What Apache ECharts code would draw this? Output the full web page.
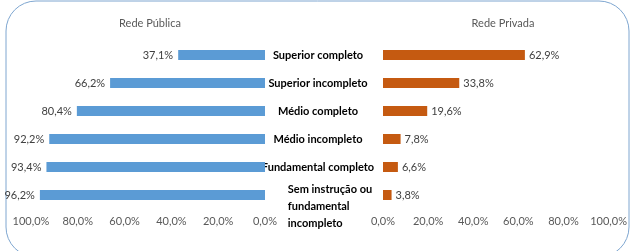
<!DOCTYPE html>
<html>
<head>
<meta charset="utf-8">
<script src="https://cdn.jsdelivr.net/npm/echarts@6/dist/echarts.min.js"></script>
<style>
  html, body { margin: 0; padding: 0; background: #fff; }
  #chart { width: 630px; height: 251px; }
</style>
</head>
<body>
<div id="chart"></div>
<script>
const categories = ['Superior completo', 'Superior incompleto', 'Médio completo', 'Médio incompleto', 'Fundamental completo', 'Sem instrução ou fundamental incompleto'];
const redePublica = [37.1, 66.2, 80.4, 92.2, 93.4, 96.2];
const redePrivada = [62.9, 33.8, 19.6, 7.8, 6.6, 3.8];
const titles = ['Rede Pública', 'Rede Privada'];
const xMin = 0, xMax = 100, xStep = 20;

const FONT = 'Lato, "Noto Sans", sans-serif';
const pct = v => v.toFixed(1).replace('.', ',') + '%';

const chart = echarts.init(document.getElementById('chart'));

const valueAxis = (grid, inverse) => ({
    type: 'value',
    gridIndex: grid,
    inverse: inverse,
    min: xMin,
    max: xMax,
    interval: xStep,
    axisLine: {show: false},
    axisTick: {show: false},
    splitLine: {show: false},
    axisLabel: {
        margin: 7,
        color: '#595959',
        fontSize: 11,
        fontFamily: FONT,
        formatter: v => pct(v)
    }
});

const catStyle = {fontSize: 11, fontWeight: 'bold', color: '#000', fontFamily: FONT};

// the long last category is split over three lines, left aligned and pushed down a bit
const longLabel = () => {
    const lines = ['Sem instrução ou', 'fundamental', 'incompleto'];
    return '{sp|\u00a0}\n' + lines.map(l => '{i|\u00a0}{m|' + l + '}').join('\n');
};

chart.setOption({
    animation: false,
    title: [
        {text: titles[0], left: 145, top: 13, textAlign: 'center',
            textStyle: {fontSize: 11, fontWeight: 'normal', color: '#595959', fontFamily: FONT}},
        {text: titles[1], left: 498, top: 13, textAlign: 'center',
            textStyle: {fontSize: 11, fontWeight: 'normal', color: '#595959', fontFamily: FONT}}
    ],
    graphic: [{
        type: 'rect',
        shape: {x: 6, y: 1, width: 623, height: 256, r: 30},
        style: {fill: 'none', stroke: '#7ea6d0', lineWidth: 1},
        silent: true
    }],
    grid: [
        {left: 31, right: 365, top: 41, bottom: 42},
        {left: 383, right: 21, top: 41, bottom: 42}
    ],
    xAxis: [valueAxis(0, true), valueAxis(1, false)],
    yAxis: [
        {
            type: 'category', gridIndex: 0, inverse: true, data: categories,
            axisLine: {show: false}, axisTick: {show: false}, axisLabel: {show: false}
        },
        {
            type: 'category', gridIndex: 1, inverse: true, data: categories,
            position: 'left',
            axisLine: {show: false}, axisTick: {show: false},
            axisLabel: {
                interval: 0,
                hideOverlap: false,
                margin: 65,
                align: 'center',
                formatter: v => v === categories[5] ? longLabel() : '{b|' + v + '}',
                rich: {
                    b: catStyle,
                    sp: Object.assign({}, catStyle, {lineHeight: 22, height: 22}),
                    i: Object.assign({}, catStyle, {align: 'left', width: 24, lineHeight: 17}),
                    m: Object.assign({}, catStyle, {align: 'left', lineHeight: 17})
                }
            }
        }
    ],
    series: [
        {
            name: titles[0], type: 'bar', xAxisIndex: 0, yAxisIndex: 0,
            data: redePublica, barWidth: 10,
            itemStyle: {color: '#5b9bd5'},
            label: {show: true, position: 'left', distance: 5, color: '#404040',
                fontSize: 11, fontFamily: FONT, formatter: p => pct(p.value)}
        },
        {
            name: titles[1], type: 'bar', xAxisIndex: 1, yAxisIndex: 1,
            data: redePrivada, barWidth: 10,
            itemStyle: {color: '#c55a11'},
            label: {show: true, position: 'right', distance: 4, color: '#404040',
                fontSize: 11, fontFamily: FONT, formatter: p => pct(p.value)}
        }
    ]
});
</script>
</body>
</html>
